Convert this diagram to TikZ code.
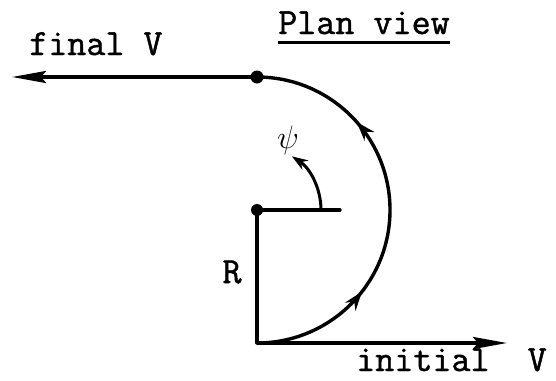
\documentclass[tikz,border=0pt]{standalone}
\usepackage{fontspec}
\setmonofont{Latin Modern Mono}[FakeBold=1.2]
\usetikzlibrary{arrows.meta,positioning,calc,decorations.markings}

\begin{document}
\begin{tikzpicture}[x=1pt, y=-1pt,
  line/.style={line width=3.4pt, line cap=round},
  vec/.style={line width=3.4pt, -{Stealth[length=34pt, width=12pt, inset=5pt]}},
  lbl/.style={font=\fontsize{37}{40}\selectfont\ttfamily, inner sep=0pt},
  midarr/.style={postaction={decorate}, decoration={markings,
      mark=at position 0.29 with {\arrow{Stealth[length=19pt, width=13pt]}},
      mark=at position 0.73 with {\arrow{Stealth[length=19pt, width=13pt]}}}},
]
\useasboundingbox (0,0) rectangle (556,380);

%% ---- points ----
\coordinate (O) at (257,343);   % start of turn
\coordinate (C) at (257,210);   % centre of turn
\coordinate (T) at (257,77);    % end of turn
\coordinate (fin) at (12,77);
\coordinate (ini) at (507,343);
\coordinate (ref) at (340,210);

%% ---- velocity vectors ----
\draw[vec] (T) -- (fin);
\draw[vec] (O) -- (ini);

%% ---- radius and reference line ----
\draw[line] (O) -- (C) -- (ref);
\fill (C) circle (6);
\fill (T) circle (6.5);

%% ---- path of the turn ----
\draw[line, midarr] (O) arc (90:-90:133);

%% ---- heading angle ----
\draw[line width=3pt, -{Stealth[length=16pt, width=11pt]}]
  ($(C)+(64,0)$) arc (0:-57:64);

%% ---- labels ----
\node[lbl, anchor=base west] (finV) at (29,55) {final V};
\node[lbl, anchor=base west] (title) at (278,34) {Plan view};
\draw[line width=3pt] ([yshift=-8pt]title.base west) -- ([yshift=-8pt]title.base east);
\node[lbl, anchor=base west] (iniV) at (356,371) {initial\ \ V};
\node[lbl] (Rlbl) at (232,272) {R};
\node[font=\Huge, scale=1.3] (psi) at (288,140) {$\psi$};

\end{tikzpicture}
\end{document}
